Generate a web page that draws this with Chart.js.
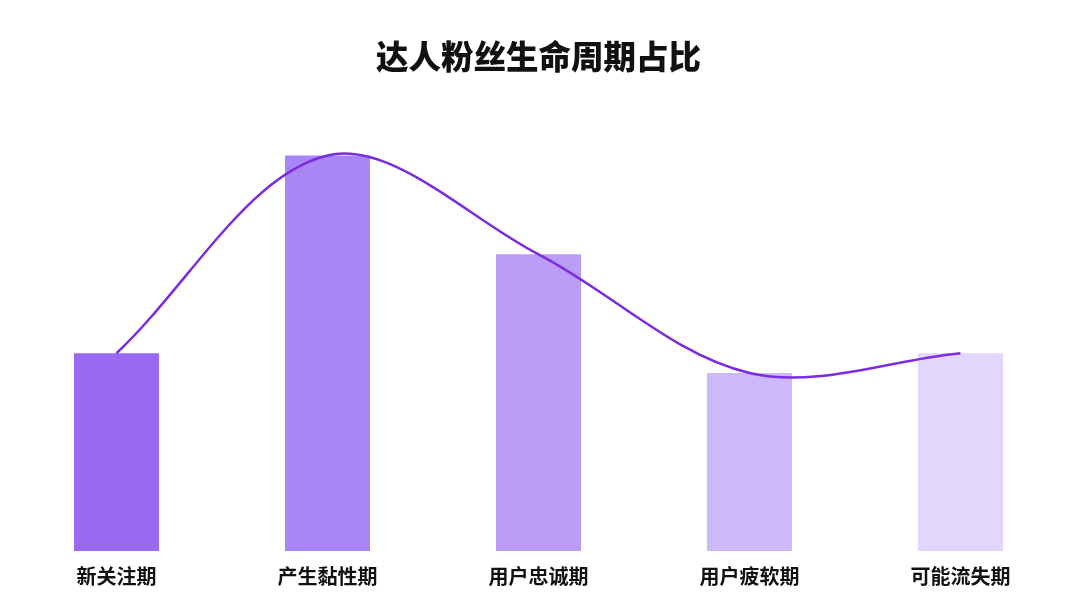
<!DOCTYPE html>
<html>
<head>
<meta charset="utf-8">
<script src="https://cdn.jsdelivr.net/npm/chart.js@4/dist/chart.umd.min.js"></script>
<style>
  html, body { margin: 0; padding: 0; background: #ffffff; }
  #wrap { width: 1080px; height: 608px; position: relative; }
</style>
</head>
<body>
<div id="wrap"><canvas id="c" width="1080" height="608"></canvas></div>
<script>
const chartTitle = '达人粉丝生命周期占比';
const categories = ['新关注期', '产生黏性期', '用户忠诚期', '用户疲软期', '可能流失期'];
const barValues = [20, 40, 30, 18, 20];
const lineValues = [20, 40, 30, 18, 20];
const barColors = ['#9a69f3', '#a985f6', '#bb9df8', '#cdb9fa', '#e2d6fc'];
const lineColor = '#7b2ce0';
const yMax = 45;

new Chart(document.getElementById('c'), {
  data: {
    labels: categories,
    datasets: [
      {
        type: 'line',
        data: lineValues,
        borderColor: lineColor,
        borderWidth: 2.5,
        pointRadius: 0,
        tension: 0.34,
        fill: false,
        order: 0
      },
      {
        type: 'bar',
        data: barValues,
        backgroundColor: barColors,
        borderWidth: 0,
        barPercentage: 1,
        categoryPercentage: 0.403,
        order: 1
      }
    ]
  },
  options: {
    responsive: false,
    animation: false,
    layout: { padding: { left: 11, right: 14, top: 0, bottom: 7 } },
    plugins: {
      legend: { display: false },
      tooltip: { enabled: false },
      title: {
        display: true,
        text: chartTitle,
        color: '#111111',
        font: { family: '"Noto Sans CJK SC", sans-serif', size: 32.5, weight: '900' },
        padding: { top: 37, bottom: 30 }
      }
    },
    scales: {
      x: {
        grid: { display: false, drawTicks: false },
        border: { display: false },
        ticks: {
          color: '#111111',
          padding: 13,
          font: { family: '"Noto Sans CJK SC", sans-serif', size: 20, weight: 'bold' }
        }
      },
      y: {
        display: false,
        min: 0,
        max: yMax
      }
    }
  }
});
</script>
</body>
</html>
